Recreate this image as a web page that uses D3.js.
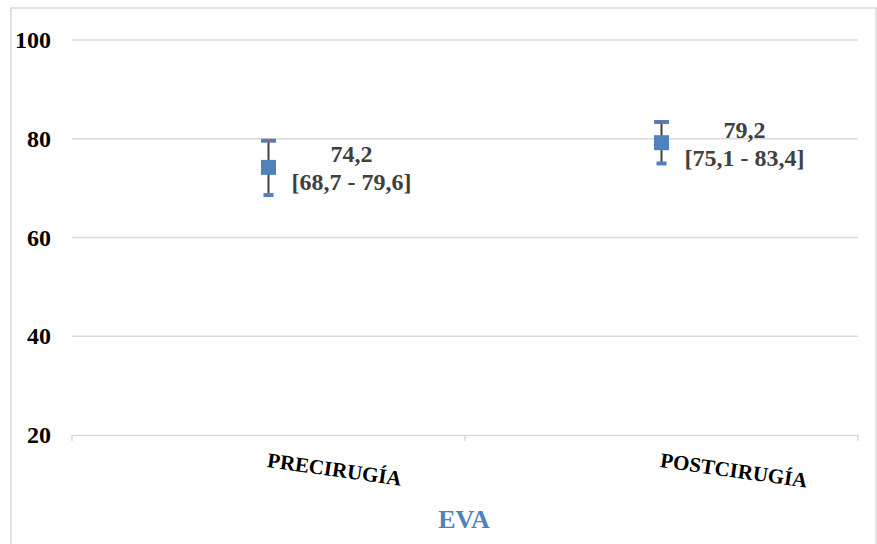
<!DOCTYPE html>
<html>
<head>
<meta charset="utf-8">
<script src="https://cdn.jsdelivr.net/npm/d3@7"></script>
<style>
  html, body { margin: 0; padding: 0; background: #fff; }
  svg { display: block; }
</style>
</head>
<body>
<svg id="chart" width="877" height="544"></svg>
<script>
const categories = ["PRECIRUGÍA", "POSTCIRUGÍA"];
const means = [74.2, 79.2];
const lower = [68.7, 75.1];
const upper = [79.6, 83.4];
const meanLabels = ["74,2", "79,2"];
const ciLabels = ["[68,7 - 79,6]", "[75,1 - 83,4]"];
const yTicks = [20, 40, 60, 80, 100];
const axisTitle = "EVA";

const svg = d3.select("#chart");
const W = 877, H = 544;
const margin = { left: 72, right: 19, top: 40, bottom: 109 };
const serif = "'Liberation Serif', 'Times New Roman', Times, serif";
const blue = "#4f81bd";

// chart border
svg.append("rect").attr("x", 11).attr("y", 8).attr("width", 865).attr("height", 560)
  .attr("fill", "#fff").attr("stroke", "#d9d9d9").attr("stroke-width", 1.5);

const x = d3.scaleBand().domain(categories).range([margin.left, W - margin.right]);
const y = d3.scaleLinear().domain([20, 100]).range([H - margin.bottom, margin.top]);

// gridlines
svg.append("g").selectAll("line").data(yTicks.filter(d => d !== 20)).join("line")
  .attr("x1", margin.left).attr("x2", W - margin.right)
  .attr("y1", d => y(d)).attr("y2", d => y(d))
  .attr("stroke", "#d9d9d9").attr("stroke-width", 1.5);

// x axis
const xAxis = d3.axisBottom(x).tickSize(0).tickFormat("");
const gx = svg.append("g").attr("transform", `translate(0,${y(20)})`).call(xAxis);
gx.select(".domain").attr("stroke", "#d9d9d9").attr("stroke-width", 1.5);
const bounds = [x.range()[0], ...categories.map(c => x(c) + x.bandwidth())];
gx.selectAll(".bt").data(bounds).join("line").attr("class", "bt")
  .attr("x1", d => d).attr("x2", d => d).attr("y1", 0).attr("y2", 6)
  .attr("stroke", "#d9d9d9").attr("stroke-width", 1.5);

// category labels (rotated)
svg.append("g").selectAll("text").data(categories).join("text")
  .attr("transform", d => `translate(${x(d) + x.bandwidth() / 2 - 2},${y(20) + 32}) rotate(8)`)
  .attr("text-anchor", "start")
  .attr("font-family", serif).attr("font-weight", "bold").attr("font-size", 21)
  .attr("fill", "#000").text(d => d);

// y axis labels
const yAxis = d3.axisLeft(y).tickValues(yTicks).tickSize(0).tickPadding(21);
const gy = svg.append("g").attr("transform", `translate(${margin.left},0)`).call(yAxis);
gy.select(".domain").remove();
gy.selectAll("text").attr("font-family", serif).attr("font-weight", "bold")
  .attr("font-size", 24).attr("fill", "#000").attr("dy", "0.32em");

// axis title
svg.append("text").attr("x", 464).attr("y", 528).attr("text-anchor", "middle")
  .attr("font-family", serif).attr("font-weight", "bold").attr("font-size", 26)
  .attr("fill", blue).text(axisTitle);

// error bars
const data = categories.map((c, i) => ({ c, m: means[i], lo: lower[i], hi: upper[i], ml: meanLabels[i], cl: ciLabels[i] }));
const cx = d => x(d.c) + x.bandwidth() / 2;
const g = svg.append("g");
g.selectAll(".whisker").data(data).join("line").attr("class", "whisker")
  .attr("x1", cx).attr("x2", cx).attr("y1", d => y(d.hi)).attr("y2", d => y(d.lo))
  .attr("stroke", "#404040").attr("stroke-width", 2);
g.selectAll(".capT").data(data).join("rect").attr("class", "capT")
  .attr("x", d => cx(d) - 7.5).attr("y", d => y(d.hi) - 2).attr("width", 15).attr("height", 4)
  .attr("fill", blue);
g.selectAll(".capTr").data(data).join("line").attr("class", "capTr")
  .attr("x1", d => cx(d) - 5).attr("x2", d => cx(d) + 5).attr("y1", d => y(d.hi)).attr("y2", d => y(d.hi))
  .attr("stroke", "#a05a6a").attr("stroke-width", 1);
g.selectAll(".capB").data(data).join("rect").attr("class", "capB")
  .attr("x", d => cx(d) - 5).attr("y", d => y(d.lo) - 1.5).attr("width", 10).attr("height", 4)
  .attr("fill", blue);
g.selectAll(".marker").data(data).join("rect").attr("class", "marker")
  .attr("x", d => cx(d) - 7.5).attr("y", d => y(d.m) - 7.5).attr("width", 15).attr("height", 15)
  .attr("fill", blue);

// data labels
const lab = svg.append("g").selectAll("text").data(data).join("text")
  .attr("text-anchor", "middle")
  .attr("font-family", serif).attr("font-weight", "bold").attr("font-size", 24)
  .attr("fill", "#404040");
lab.append("tspan").attr("x", d => cx(d) + 83).attr("y", d => y(d.m) - 5).text(d => d.ml);
lab.append("tspan").attr("x", d => cx(d) + 83).attr("y", d => y(d.m) + 23).text(d => d.cl);
</script>
</body>
</html>
